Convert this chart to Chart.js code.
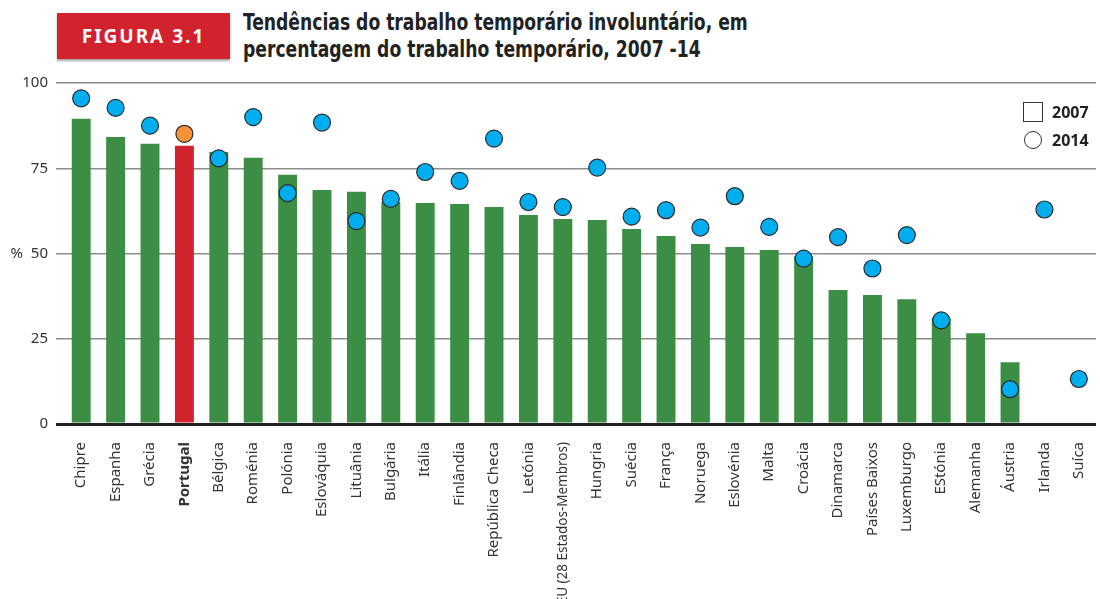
<!DOCTYPE html>
<html lang="pt">
<head>
<meta charset="UTF-8">
<script src="https://cdn.jsdelivr.net/npm/chart.js@4/dist/chart.umd.min.js"></script>
<title>Figura 3.1</title>
<style>
  body { margin: 0; width: 1100px; height: 599px; overflow: hidden; background: #fff; position: relative; font-family: "Noto Sans", sans-serif; }
  #grafico { position: absolute; left: 0; top: 0; }
  .figura {
    position: absolute; left: 57px; top: 13px; width: 173px; height: 46px;
    background: #d2222d; color: #fff; font-weight: bold; font-size: 19px;
    letter-spacing: 2px; display: flex; align-items: center; justify-content: center;
    box-shadow: 0 2px 2px rgba(0,0,0,0.35);
  }
  .titulo {
    position: absolute; left: 243px; top: 9px; font-family: "DejaVu Sans Condensed", sans-serif;
    font-weight: bold; font-size: 23px; line-height: 27px; color: #222;
    transform: scaleX(0.83); transform-origin: left top; white-space: nowrap;
  }
  .legenda { position: absolute; left: 1023px; top: 102px; font-weight: bold; font-size: 16px; color: #222; }
  .legenda div { height: 20px; display: flex; align-items: center; margin-bottom: 8px; }
  .quad { width: 18px; height: 18px; border: 1px solid #333; margin-right: 9px; }
  .circ { width: 16px; height: 16px; border: 1px solid #333; border-radius: 50%; margin: 0 10px 0 1px; }
</style>
</head>
<body>
  <div class="figura">FIGURA 3.1</div>
  <div class="titulo">Tendências do trabalho temporário involuntário, em<br>percentagem do trabalho temporário, 2007 -14</div>
  <canvas id="grafico" width="1107" height="599"></canvas>
  <div class="legenda">
    <div><span class="quad"></span>2007</div>
    <div><span class="circ"></span>2014</div>
  </div>

<script>
  const paises = ['Chipre', 'Espanha', 'Grécia', 'Portugal', 'Bélgica', 'Roménia', 'Polónia', 'Eslováquia',
    'Lituânia', 'Bulgária', 'Itália', 'Finlândia', 'República Checa', 'Letónia', 'EU (28 Estados-Membros)',
    'Hungria', 'Suécia', 'França', 'Noruega', 'Eslovénia', 'Malta', 'Croácia', 'Dinamarca', 'Países Baixos',
    'Luxemburgo', 'EStónia', 'Alemanha', 'Áustria', 'Irlanda', 'Suíca'];

  const anos2007 = [89.5, 84.2, 82.2, 81.6, 79.8, 78.1, 73.1, 68.6, 68.1, 65.1, 64.8, 64.5, 63.6, 61.3, 60.1,
    59.8, 57.2, 55.1, 52.8, 51.9, 51.0, 49.3, 39.3, 37.8, 36.6, 31.0, 26.6, 18.1, null, null];

  const anos2014 = [95.5, 92.7, 87.5, 85.1, 77.9, 90.0, 67.7, 88.4, 59.5, 66.0, 73.9, 71.3, 83.7, 65.1, 63.6,
    75.2, 60.8, 62.7, 57.6, 66.8, 57.8, 48.5, 54.8, 45.6, 55.4, 30.4, null, 10.2, 62.9, 13.2];

  const ticksY = [0, 25, 50, 75, 100];

  const destaque = 'Portugal';

  const coresBarra = paises.map(p => p == destaque ? '#d2222d' : '#3b8e44');
  const coresPonto = paises.map(p => p == destaque ? '#f7923a' : '#00aeef');

  // fonte do eixo x: Portugal a negrito, a etiqueta longa da UE um pouco mais pequena
  function fonteX(ctx) {
    const nome = paises[ctx.index];
    return {
      family: 'Noto Sans',
      size: nome.length > 20 ? 13.5 : 15,
      weight: nome == destaque ? 'bold' : 'normal'
    };
  }

  const config = {
    type: 'bar',
    data: {
      labels: paises,
      datasets: [
        {
          type: 'line',
          label: '2014',
          data: anos2014,
          showLine: false,
          pointRadius: 8.5,
          pointBorderWidth: 1.2,
          pointBorderColor: '#2a2a2a',
          pointBackgroundColor: coresPonto,
          order: 0
        },
        {
          label: '2007',
          data: anos2007,
          backgroundColor: coresBarra,
          barPercentage: 0.55,
          categoryPercentage: 1,
          order: 1
        }
      ]
    },
    options: {
      responsive: false,
      animation: false,
      layout: { padding: { top: 83, right: 0, left: 0, bottom: 0 } },
      plugins: { legend: { display: false }, tooltip: { enabled: false } },
      scales: {
        x: {
          grid: { display: false },
          border: { display: false },
          afterFit: s => { s.height = 175; },
          ticks: {
            autoSkip: false, maxRotation: 90, minRotation: 90, padding: 10,
            color: '#333',
            font: fonteX
          }
        },
        y: {
          min: 0, max: 100,
          afterFit: s => { s.width = 64; },
          afterBuildTicks: s => { s.ticks = ticksY.map(v => ({ value: v })); },
          border: { display: false },
          grid: {
            tickLength: 8,
            color: ctx => ctx.tick && ctx.tick.value === 0 ? '#222' : '#8c8c8c',
            lineWidth: ctx => ctx.tick && ctx.tick.value === 0 ? 3 : 1.5
          },
          ticks: {
            padding: 8, color: '#333',
            font: { family: 'Noto Sans', size: 15 },
            callback: v => v == 50 ? '%  50' : v
          }
        }
      }
    }
  };

  const grafico = new Chart(document.getElementById('grafico'), config);
</script>
</body>
</html>
